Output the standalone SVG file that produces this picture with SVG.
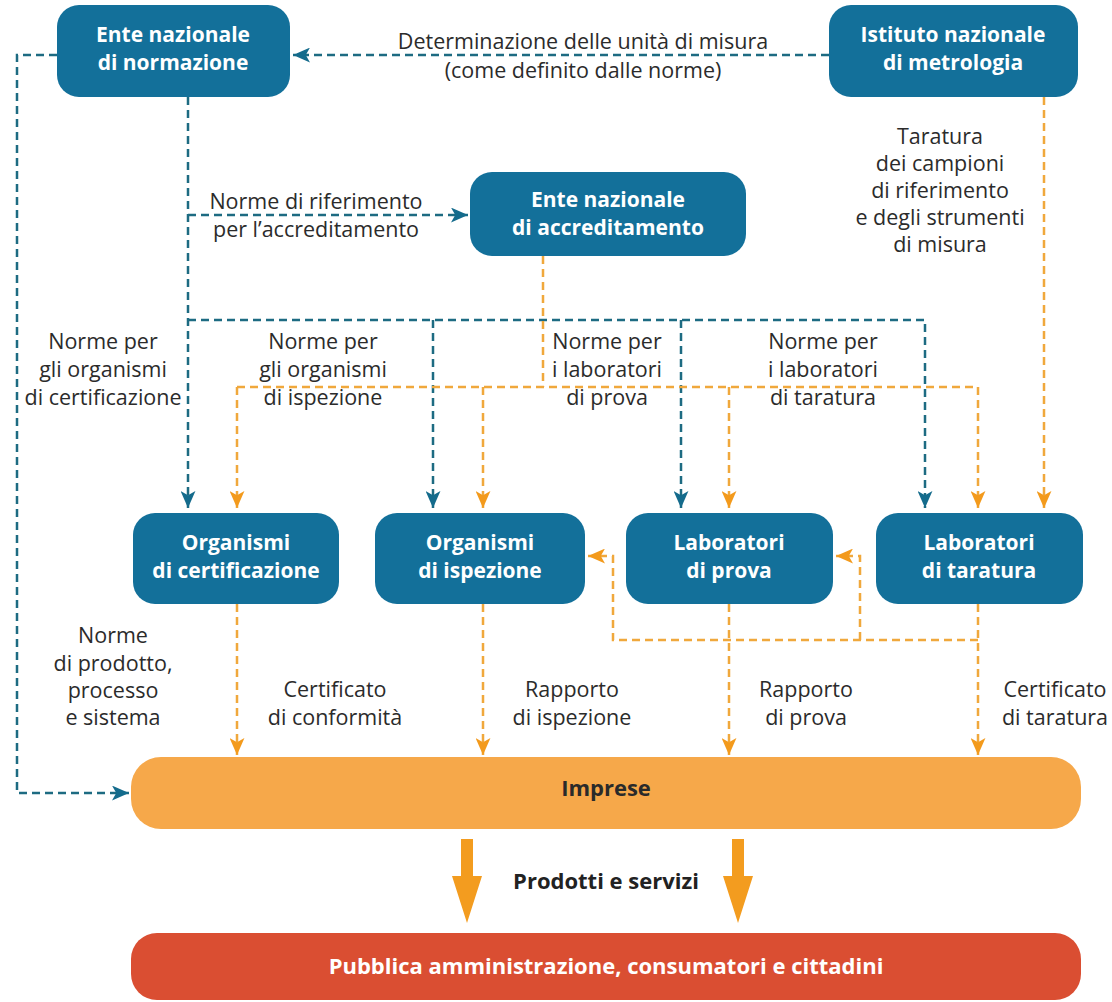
<svg xmlns="http://www.w3.org/2000/svg" width="1112" height="1002" viewBox="0 0 1112 1002">
<style>
.node{fill:#13709a}
.nt{font-family:"Open Sans","Noto Sans",sans-serif;font-weight:bold;font-size:21px;fill:#ffffff;text-anchor:middle}
.lb{font-family:"Open Sans","Noto Sans",sans-serif;font-size:21.5px;fill:#2b2b2b;text-anchor:middle}
.bd{stroke:#1d6b82;stroke-width:2.5;stroke-dasharray:8 5;fill:none}
.od{stroke:#f0a83c;stroke-width:2.5;stroke-dasharray:8 5;fill:none}
.bt{font-family:"Open Sans","Noto Sans",sans-serif;font-weight:bold;font-size:22px;text-anchor:middle}
</style>
<defs>
<marker id="ab" markerUnits="userSpaceOnUse" viewBox="0 0 16 14" refX="16" refY="7" markerWidth="17" markerHeight="15" orient="auto"><path d="M0,0 L16,7 L0,14 L4,7 Z" fill="#146b8c"/></marker>
<marker id="ao" markerUnits="userSpaceOnUse" viewBox="0 0 16 14" refX="16" refY="7" markerWidth="17" markerHeight="15" orient="auto"><path d="M0,0 L16,7 L0,14 L4,7 Z" fill="#f39a1c"/></marker>
</defs>
<rect width="1112" height="1002" fill="#ffffff"/>

<g id="connectors">
<path class="bd" d="M829,55 H293" marker-end="url(#ab)"/>
<path class="bd" d="M57,55 H17 V793 H129" marker-end="url(#ab)"/>
<path class="bd" d="M188,97 V508" marker-end="url(#ab)"/>
<path class="bd" d="M188,215 H468" marker-end="url(#ab)"/>
<path class="bd" d="M188,320 H925 V508" marker-end="url(#ab)"/>
<path class="bd" d="M433,320 V508" marker-end="url(#ab)"/>
<path class="bd" d="M681,320 V508" marker-end="url(#ab)"/>

<path class="od" d="M543,256 V387"/>
<path class="od" d="M237,387 H978 V508" marker-end="url(#ao)"/>
<path class="od" d="M237,387 V508" marker-end="url(#ao)"/>
<path class="od" d="M483,387 V508" marker-end="url(#ao)"/>
<path class="od" d="M729,387 V508" marker-end="url(#ao)"/>
<path class="od" d="M1044,97 V508" marker-end="url(#ao)"/>

<path class="od" d="M237,604 V755" marker-end="url(#ao)"/>
<path class="od" d="M483,604 V755" marker-end="url(#ao)"/>
<path class="od" d="M729,604 V755" marker-end="url(#ao)"/>
<path class="od" d="M978,604 V755" marker-end="url(#ao)"/>
<path class="od" d="M978,640 H613 V556 H588" marker-end="url(#ao)"/>
<path class="od" d="M860,640 V556 H836" marker-end="url(#ao)"/>

<path d="M461,839 H473 V876 L482,876 L467,923 L452,876 L461,876 Z" fill="#f39c1f"/>
<path d="M732,839 H744 V876 L753,876 L738,923 L723,876 L732,876 Z" fill="#f39c1f"/>
</g>

<g id="labels">
<text class="lb" x="583" y="49">Determinazione delle unità di misura</text>
<text class="lb" x="583" y="78">(come definito dalle norme)</text>
<text class="lb" x="316" y="209">Norme di riferimento</text>
<text class="lb" x="316" y="237">per l’accreditamento</text>
<text class="lb" x="940" y="144">Taratura</text>
<text class="lb" x="940" y="171">dei campioni</text>
<text class="lb" x="940" y="198">di riferimento</text>
<text class="lb" x="940" y="225">e degli strumenti</text>
<text class="lb" x="940" y="252">di misura</text>
<text class="lb" x="103" y="349">Norme per</text>
<text class="lb" x="103" y="377">gli organismi</text>
<text class="lb" x="103" y="405">di certificazione</text>
<text class="lb" x="323" y="349">Norme per</text>
<text class="lb" x="323" y="377">gli organismi</text>
<text class="lb" x="323" y="405">di ispezione</text>
<text class="lb" x="607" y="349">Norme per</text>
<text class="lb" x="607" y="377">i laboratori</text>
<text class="lb" x="607" y="405">di prova</text>
<text class="lb" x="823" y="349">Norme per</text>
<text class="lb" x="823" y="377">i laboratori</text>
<text class="lb" x="823" y="405">di taratura</text>
<text class="lb" x="113" y="643">Norme</text>
<text class="lb" x="113" y="671">di prodotto,</text>
<text class="lb" x="113" y="698">processo</text>
<text class="lb" x="113" y="725">e sistema</text>
<text class="lb" x="335" y="697">Certificato</text>
<text class="lb" x="335" y="725">di conformità</text>
<text class="lb" x="572" y="697">Rapporto</text>
<text class="lb" x="572" y="725">di ispezione</text>
<text class="lb" x="806" y="697">Rapporto</text>
<text class="lb" x="806" y="725">di prova</text>
<text class="lb" x="1055" y="697">Certificato</text>
<text class="lb" x="1055" y="725">di taratura</text>
<text class="bt" x="606" y="889" fill="#222222">Prodotti e servizi</text>
</g>

<g id="ente-normazione">
<rect class="node" x="57" y="5" width="233" height="92" rx="22"/>
<text class="nt" x="173" y="42">Ente nazionale</text>
<text class="nt" x="173" y="70">di normazione</text>
</g>
<g id="istituto-metrologia">
<rect class="node" x="829" y="5" width="249" height="92" rx="22"/>
<text class="nt" x="953" y="42">Istituto nazionale</text>
<text class="nt" x="953" y="70">di metrologia</text>
</g>
<g id="ente-accreditamento">
<rect class="node" x="470" y="172" width="276" height="84" rx="22"/>
<text class="nt" x="608" y="207">Ente nazionale</text>
<text class="nt" x="608" y="235">di accreditamento</text>
</g>
<g id="organismi-certificazione">
<rect class="node" x="133" y="513" width="206" height="91" rx="22"/>
<text class="nt" x="236" y="550">Organismi</text>
<text class="nt" x="236" y="578">di certificazione</text>
</g>
<g id="organismi-ispezione">
<rect class="node" x="375" y="513" width="210" height="91" rx="22"/>
<text class="nt" x="480" y="550">Organismi</text>
<text class="nt" x="480" y="578">di ispezione</text>
</g>
<g id="laboratori-prova">
<rect class="node" x="626" y="513" width="207" height="91" rx="22"/>
<text class="nt" x="729" y="550">Laboratori</text>
<text class="nt" x="729" y="578">di prova</text>
</g>
<g id="laboratori-taratura">
<rect class="node" x="876" y="513" width="207" height="91" rx="22"/>
<text class="nt" x="979" y="550">Laboratori</text>
<text class="nt" x="979" y="578">di taratura</text>
</g>
<g id="imprese">
<rect x="131" y="757" width="950" height="72" rx="30" fill="#f6a84a"/>
<text class="bt" x="606" y="796" fill="#2a2a2a">Imprese</text>
</g>
<g id="pubblica">
<rect x="131" y="933" width="950" height="67" rx="26" fill="#da4e32"/>
<text class="bt" x="606" y="974" fill="#ffffff">Pubblica amministrazione, consumatori e cittadini</text>
</g>
</svg>
